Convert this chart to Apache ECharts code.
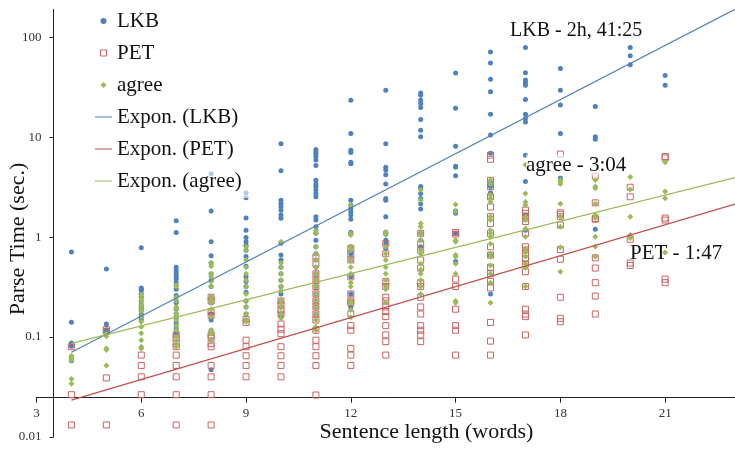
<!DOCTYPE html>
<html><head><meta charset="utf-8">
<script src="https://cdn.jsdelivr.net/npm/echarts@6/dist/echarts.min.js"></script>
<style>html,body{margin:0;padding:0;background:#fff}#c{width:735px;height:449px}</style>
</head><body><div id="c"></div>
<script>
const lengths = [4,5,6,7,8,9,10,11,12,13,14,15,16,17,18,19,20,21];
const lkbTimes = [
  [0.71,0.141,0.087,0.081,0.062,0.058],
  [0.48,0.135,0.118,0.112],
  [0.78,0.31,0.30,0.29,0.27,0.25,0.23,0.21,0.20,0.19,0.17,0.16,0.15],
  [1.46,1.11,0.50,0.46,0.43,0.40,0.38,0.35,0.30,0.26,0.23,0.22,0.19,0.17,0.155,0.138,0.123,0.11],
  [4.3,1.82,0.90,0.65,0.55,0.43,0.37,0.32,0.25,0.22,0.17,0.148,0.117,0.108,0.093,0.047],
  [2.77,2.47,1.55,1.17,0.99,0.90,0.83,0.74,0.64,0.51,0.40,0.36,0.32,0.28,0.23,0.20,0.17,0.148],
  [8.6,4.6,2.34,2.17,2.01,1.86,1.66,1.54,0.87,0.66,0.59,0.50,0.43,0.37,0.32,0.27,0.23,0.20,0.17,0.16],
  [7.5,7.1,6.8,6.4,5.9,5.2,3.7,3.4,3.2,2.95,2.73,2.53,1.6,1.48,1.27,1.09,0.93,0.80,0.68,0.59,0.50,0.43,0.37,0.32,0.27,0.23,0.20,0.17],
  [23.4,10.9,7.4,7.0,5.6,5.4,2.34,2.09,1.94,1.79,1.66,1.51,1.12,1.09,0.80,0.68,0.59,0.40,0.27,0.23,0.20],
  [29.5,8.6,5.0,4.7,4.2,3.4,2.43,2.34,1.6,1.12,1.09,0.93,0.86,0.77],
  [27.7,26.3,23.4,21.7,19.8,15.0,11.7,10.1,3.2,3.1,2.73,2.43,2.15,1.91,1.09,0.93,0.80],
  [43.7,19.5,8.1,5.1,5.0,4.1,1.82,1.73,1.09,0.57],
  [71,55,38,28.4,16.9,10.5,6.9,3.5,3.3,3.2,2.77,0.66,0.27],
  [79,44,37.2,35.3,33.1,23.8,16.9,15.4,14.2,6.6,3.6,1.66,1.17],
  [48.6,29.5,20.9,10.9,3.9],
  [20.2,10.1,9.5,1.2],
  [79,65,53],
  [41.4,33]
];
const petTimes = [
  [0.080,0.0265,0.0132],
  [0.119,0.114,0.039,0.0132],
  [0.066,0.052,0.040,0.0265],
  [0.105,0.098,0.087,0.080,0.066,0.052,0.040,0.0265,0.0132],
  [0.25,0.23,0.18,0.165,0.105,0.10,0.086,0.080,0.052,0.040,0.0265,0.0132],
  [0.15,0.14,0.093,0.080,0.065,0.052,0.040],
  [0.23,0.21,0.186,0.17,0.135,0.12,0.108,0.080,0.065,0.052,0.040],
  [0.63,0.54,0.43,0.37,0.32,0.27,0.23,0.20,0.17,0.148,0.117,0.093,0.080,0.065,0.052,0.0263],
  [0.77,0.68,0.59,0.40,0.27,0.23,0.22,0.17,0.13,0.117,0.077,0.066,0.052],
  [0.86,0.68,0.36,0.32,0.25,0.23,0.20,0.18,0.16,0.13,0.105,0.09,0.066],
  [1.09,0.86,0.74,0.59,0.49,0.35,0.32,0.25,0.20,0.17,0.13,0.117,0.105,0.09],
  [1.11,1.07,0.38,0.32,0.19,0.13,0.117,0.066],
  [6.6,6.0,3.7,3.2,2.53,2.0,1.6,1.37,1.09,0.80,0.66,0.50,0.43,0.36,0.31,0.14,0.091,0.066],
  [1.86,1.73,1.55,1.43,1.09,0.80,0.74,0.68,0.61,0.54,0.45,0.32,0.19,0.17,0.16,0.105],
  [6.76,1.75,1.69,1.6,1.32,0.75,0.60,0.25,0.154,0.142],
  [4.07,2.2,1.53,1.51,0.62,0.49,0.35,0.257,0.17],
  [3.15,2.53,0.95,0.55,0.52],
  [6.4,6.2,1.55,1.48,0.38,0.35]
];
const agreeTimes = [
  [0.065,0.062,0.059,0.038,0.034],
  [0.107,0.102,0.077,0.074,0.052],
  [0.267,0.245,0.229,0.209,0.195,0.180,0.160,0.142,0.127,0.109,0.093,0.080,0.077],
  [0.33,0.32,0.25,0.23,0.20,0.19,0.17,0.16,0.148,0.13,0.117,0.10,0.086,0.08],
  [0.55,0.51,0.43,0.40,0.36,0.32,0.25,0.23,0.22,0.19,0.16,0.117,0.108,0.093],
  [0.80,0.74,0.59,0.50,0.43,0.37,0.32,0.27,0.23,0.20,0.17,0.148,0.142],
  [0.90,0.55,0.50,0.43,0.37,0.32,0.29,0.23,0.20,0.17,0.154],
  [1.17,1.09,0.80,0.68,0.59,0.50,0.43,0.37,0.32,0.27,0.23,0.20,0.17,0.148,0.127,0.117],
  [2.09,1.09,1.05,0.80,0.74,0.59,0.50,0.43,0.35,0.32,0.23,0.22,0.186,0.158],
  [1.12,1.05,0.80,0.68,0.59,0.50,0.43,0.37,0.32,0.30,0.22],
  [2.95,2.34,1.37,1.27,1.09,0.93,0.74,0.68,0.54,0.47,0.43,0.37,0.32,0.27],
  [2.12,1.79,0.93,0.90,0.66,0.64,0.54,0.43,0.23,0.22],
  [3.72,3.4,2.63,2.43,2.25,1.6,1.48,1.17,1.09,1.01,0.86,0.68,0.64,0.52,0.43,0.35,0.22],
  [5.3,2.73,2.25,2.09,1.6,1.48,1.22,1.01,0.77,0.71,0.64,0.54,0.49,0.32],
  [3.72,3.58,3.4,2.15,1.6,1.27,0.79,0.45],
  [3.72,3.2,3.08,2.15,1.66,1.55,1.01,0.80,0.64],
  [4.0,3.0,1.6,1.05,0.98],
  [5.6,2.86,2.45,0.70]
];
// exponential trendline end points (x = 4 .. 23)
const trendX = [4, 23];
const lkbTrend = [0.0703, 190];
const petTrend = [0.0234, 2.14];
const agreeTrend = [0.0865, 3.94];
const xTicks = [3, 6, 9, 12, 15, 18, 21];
const yTicks = [0.01, 0.1, 1, 10, 100];
const seriesNames = ['LKB', 'PET', 'agree', 'Expon. (LKB)', 'Expon. (PET)', 'Expon. (agree)'];
const notes = ['LKB - 2h, 41:25', 'agree - 3:04', 'PET - 1:47'];

const BLUE = '#4f81bd', RED = '#c0504d', GREEN = '#9bbb59';
const SERIF = '"Liberation Serif", "DejaVu Serif", serif';
const LINE_ICON = 'path://M0,0 H40 V2.4 H0 Z';

function pts(table) {
  const out = [];
  lengths.forEach((x, i) => table[i].forEach(v => out.push([x, v])));
  return out;
}
function trend(vals) { return trendX.map((x, i) => [x, vals[i]]); }

const chart = echarts.init(document.getElementById('c'), null, {renderer: 'canvas'});
chart.setOption({
  animation: false,
  backgroundColor: '#fff',
  grid: {left: 36.5, top: 9.3, width: 702, height: 427.7, containLabel: false},
  xAxis: {
    type: 'value', min: 3, max: 23, offset: -39.3,
    axisLine: {show: true, lineStyle: {color: '#222', width: 1}},
    axisTick: {show: true, length: 5, inside: false, lineStyle: {color: '#222'}, customValues: xTicks},
    axisLabel: {show: true, margin: 9, fontFamily: SERIF, fontSize: 13, color: '#333', customValues: xTicks},
    splitLine: {show: false}
  },
  yAxis: {
    type: 'log', logBase: 10, min: 0.01, max: 190, offset: -17,
    axisLine: {show: true, lineStyle: {color: '#222', width: 1}},
    axisTick: {show: true, length: 4, lineStyle: {color: '#222'}, customValues: yTicks},
    axisLabel: {show: true, margin: 12, fontFamily: SERIF, fontSize: 13, color: '#333', customValues: yTicks,
      formatter: v => String(v)},
    splitLine: {show: false}
  },
  legend: {
    orient: 'vertical', left: 90, top: 5, padding: [5, 8, 6, 5],
    itemWidth: 17, itemHeight: 6, itemGap: 10, symbolKeepAspect: true,
    backgroundColor: 'rgba(255,255,255,0.6)',
    textStyle: {fontFamily: SERIF, fontSize: 21, color: '#111', lineHeight: 22},
    data: [
      {name: seriesNames[0], icon: 'circle', itemStyle: {color: BLUE}},
      {name: seriesNames[1], icon: 'path://M0,0 H10 V10 H0 Z', itemStyle: {color: 'rgba(255,255,255,0)', borderColor: '#cd6461', borderWidth: 1}},
      {name: seriesNames[2], icon: 'path://M5,0 L10,5 L5,10 L0,5 Z', itemStyle: {color: GREEN}},
      {name: seriesNames[3], icon: LINE_ICON, itemStyle: {color: BLUE, borderWidth: 0}},
      {name: seriesNames[4], icon: LINE_ICON, itemStyle: {color: RED, borderWidth: 0}},
      {name: seriesNames[5], icon: LINE_ICON, itemStyle: {color: GREEN, borderWidth: 0}}
    ]
  },
  series: [
    {name: seriesNames[0], type: 'scatter', symbol: 'circle', symbolSize: 5, z: 2,
     itemStyle: {color: BLUE, opacity: 1}, data: pts(lkbTimes)},
    {name: seriesNames[1], type: 'scatter', symbol: 'rect', symbolSize: 6, z: 2,
     itemStyle: {color: 'rgba(255,255,255,0)', borderColor: '#cd6461', borderWidth: 1, opacity: 1}, data: pts(petTimes)},
    {name: seriesNames[2], type: 'scatter', symbol: 'diamond', symbolSize: 6, z: 2,
     itemStyle: {color: GREEN, opacity: 1}, data: pts(agreeTimes)},
    {name: seriesNames[3], type: 'line', symbol: 'none', z: 3, lineStyle: {color: BLUE, width: 1.2},
     itemStyle: {color: BLUE}, data: trend(lkbTrend)},
    {name: seriesNames[4], type: 'line', symbol: 'none', z: 3, lineStyle: {color: RED, width: 1.2},
     itemStyle: {color: RED}, data: trend(petTrend)},
    {name: seriesNames[5], type: 'line', symbol: 'none', z: 3, lineStyle: {color: GREEN, width: 1.2},
     itemStyle: {color: GREEN}, data: trend(agreeTrend)}
  ],
  graphic: [
    {type: 'text', x: 510, y: 31, z: 10, style: {text: notes[0], font: '20px ' + SERIF, fill: '#111', textVerticalAlign: 'middle'}},
    {type: 'text', x: 526, y: 165, z: 10, style: {text: notes[1], font: '21px ' + SERIF, fill: '#111', textVerticalAlign: 'middle', backgroundColor: 'rgba(255,255,255,0.6)'}},
    {type: 'text', x: 630, y: 253, z: 1, style: {text: notes[2], font: '21px ' + SERIF, fill: '#111', textVerticalAlign: 'middle'}},
    {type: 'text', x: 426.5, y: 432, z: 10, style: {text: 'Sentence length (words)', font: '22px ' + SERIF, fill: '#111', textAlign: 'center', textVerticalAlign: 'middle'}},
    {type: 'text', x: 18, y: 239, rotation: Math.PI / 2, z: 10, style: {text: 'Parse Time (sec.)', font: '22px ' + SERIF, fill: '#111', textAlign: 'center', textVerticalAlign: 'middle'}}
  ]
});
</script>
</body></html>
